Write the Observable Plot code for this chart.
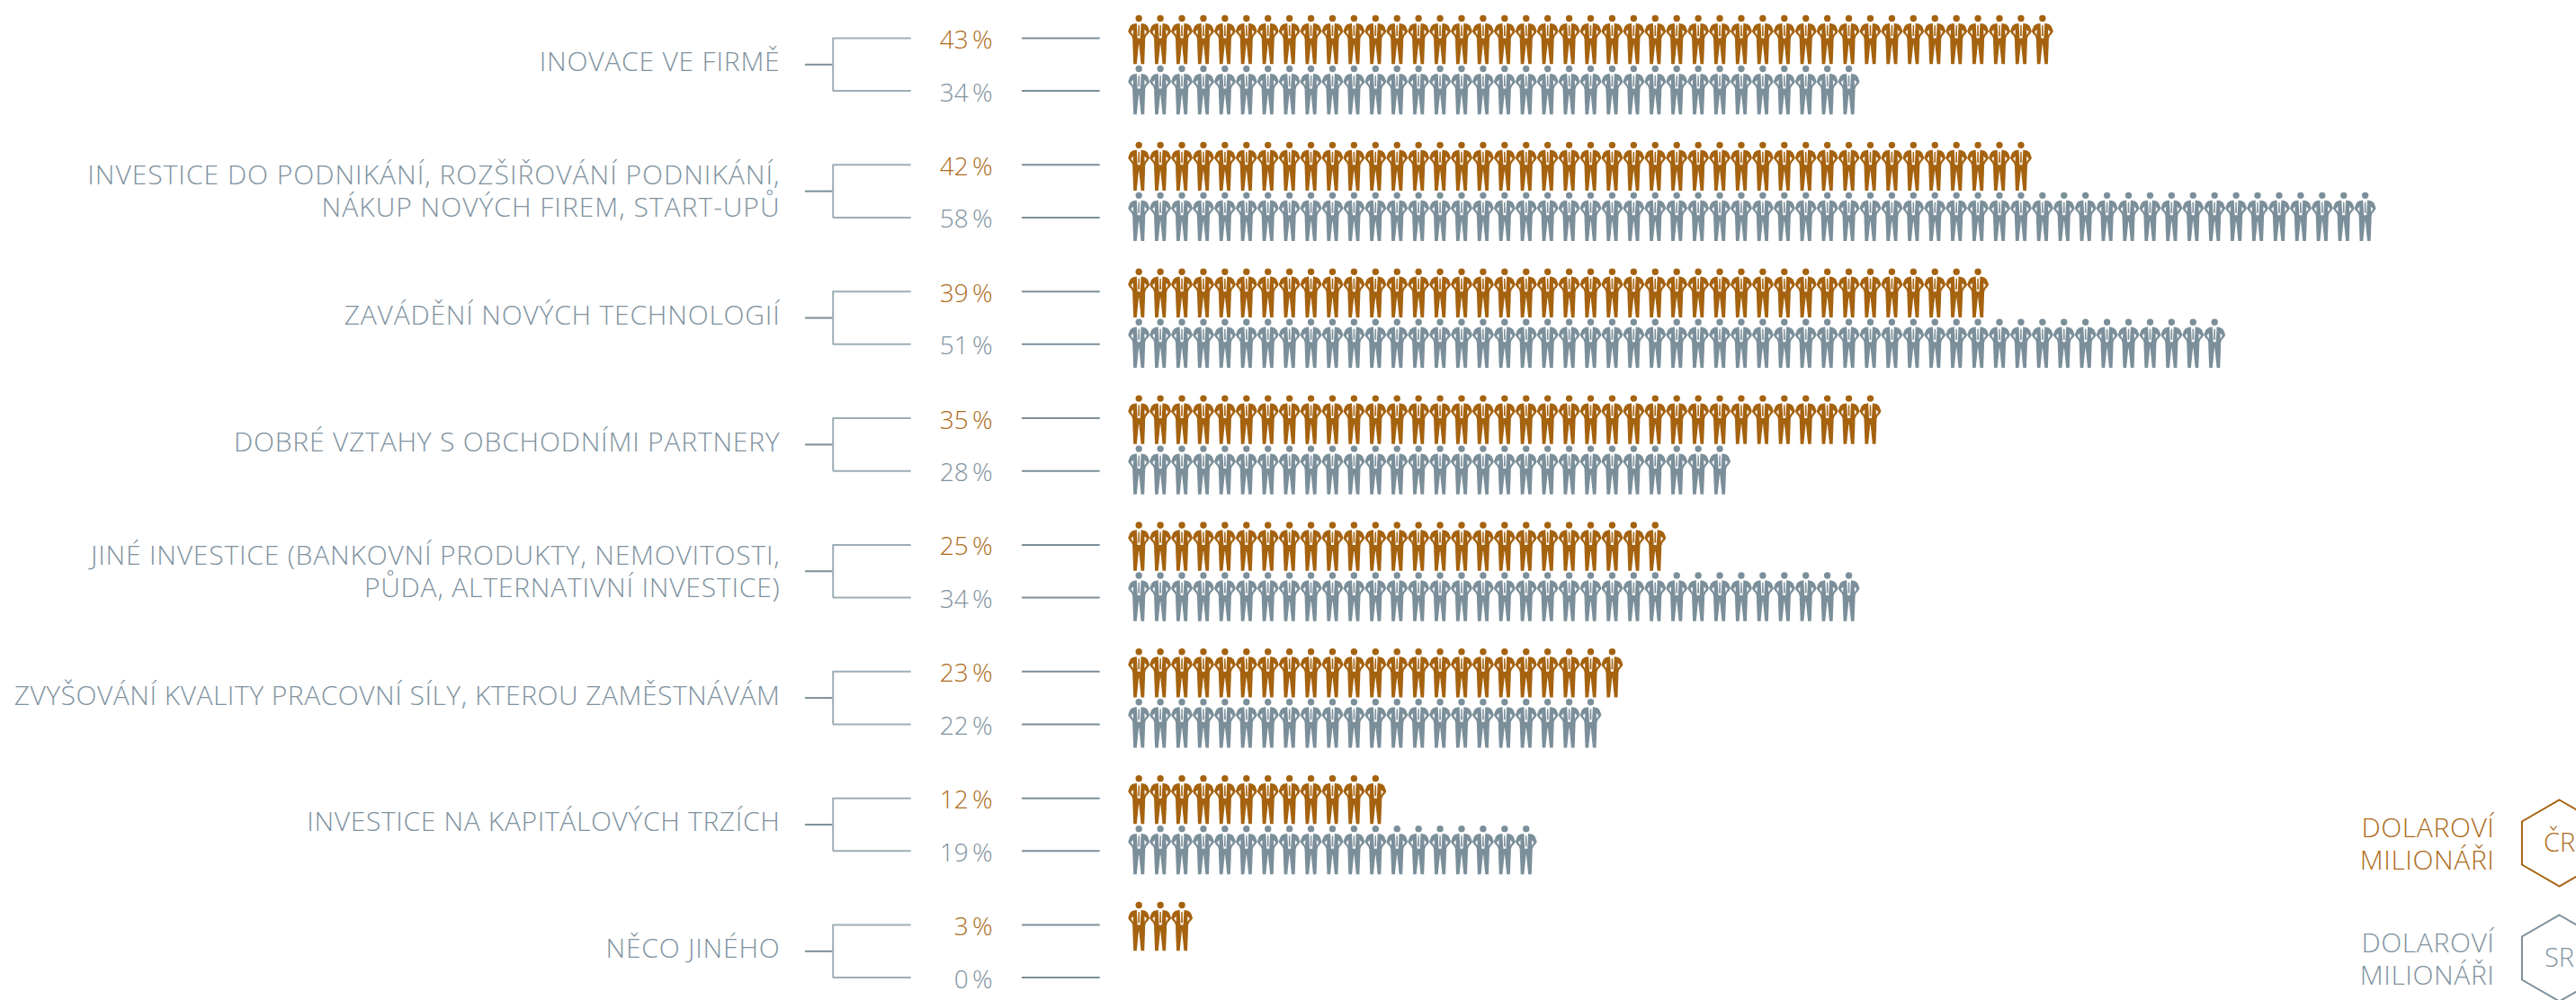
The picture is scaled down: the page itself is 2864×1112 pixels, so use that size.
<!DOCTYPE html>
<html><head><meta charset="utf-8">
<style>html,body{margin:0;padding:0;background:#fff;overflow:hidden}svg{display:block}</style>
<script src="https://cdn.jsdelivr.net/npm/d3@7"></script>
<script src="https://cdn.jsdelivr.net/npm/@observablehq/plot@0.6"></script>
</head><body><div id="c"></div><script>
const categories = [
  "INOVACE VE FIRMĚ",
  "INVESTICE DO PODNIKÁNÍ, ROZŠIŘOVÁNÍ PODNIKÁNÍ,\nNÁKUP NOVÝCH FIREM, START-UPŮ",
  "ZAVÁDĚNÍ NOVÝCH TECHNOLOGIÍ",
  "DOBRÉ VZTAHY S OBCHODNÍMI PARTNERY",
  "JINÉ INVESTICE (BANKOVNÍ PRODUKTY, NEMOVITOSTI,\nPŮDA, ALTERNATIVNÍ INVESTICE)",
  "ZVYŠOVÁNÍ KVALITY PRACOVNÍ SÍLY, KTEROU ZAMĚSTNÁVÁM",
  "INVESTICE NA KAPITÁLOVÝCH TRZÍCH",
  "NĚCO JINÉHO"
];
const cr = [43, 42, 39, 35, 25, 23, 12, 3];
const sr = [34, 58, 51, 28, 34, 22, 19, 0];
// people drawn per row; the reference shows 40 figures beside its "39 %"
const crPeople = [43, 42, 40, 35, 25, 23, 12, 3];
const srPeople = [34, 58, 51, 28, 34, 22, 19, 0];
const legendLabel = "DOLAROVÍ\nMILIONÁŘI";
const seriesNames = ["ČR", "SR"];

const W = 2864, H = 1112;
const GOLD = "#a5620f", GOLDT = "#ad6c1c", GREY = "#7b8f9a", GREYT = "#7f939f", BRACKET = "#9dadb6";
const FONT = "'Open Sans', sans-serif";

// scale helpers: x unit = one person (1 %), y unit = one category row
const X0 = 1265.7, DX = 23.92, Y0 = 42, DY = 140.86;
const ux = px => (px - X0) / DX;
const uy = px => px / DY;
const SR_LINE = uy(58.6), CR_ICON = uy(-22), SR_ICON = uy(58.6 - 24.6), MID = uy(29.3);

const rows = categories.map((label, i) => ({label, i, cr: cr[i], sr: sr[i]}));
const people = rows.flatMap((r, i) => [
  ...d3.range(crPeople[i]).map(k => ({k, y: i + CR_ICON, s: "ČR"})),
  ...d3.range(srPeople[i]).map(k => ({k, y: i + SR_ICON, s: "SR"}))
]);

const person = {draw(c) {
  // head
  c.moveTo(3.7, 0); c.arc(0, 0, 3.7, 0, 2 * Math.PI); c.closePath();
  // body outline, clockwise
  c.moveTo(-3, 5.4);
  c.lineTo(3, 5.4); c.lineTo(7, 6.2); c.lineTo(9.6, 8.2); c.lineTo(10.8, 11); c.lineTo(12, 14.4);
  c.lineTo(10.4, 17); c.lineTo(8, 19.6); c.lineTo(7, 22.5);
  c.lineTo(6.8, 30); c.lineTo(6, 50.7); c.lineTo(2.4, 50.7); c.lineTo(0.2, 29);
  c.lineTo(-0.2, 29); c.lineTo(-2.4, 50.7); c.lineTo(-6, 50.7); c.lineTo(-6.8, 30);
  c.lineTo(-7, 22.5); c.lineTo(-8, 19.6); c.lineTo(-10.4, 17); c.lineTo(-12, 14.4);
  c.lineTo(-10.8, 11); c.lineTo(-9.6, 8.2); c.lineTo(-7, 6.2); c.closePath();
  // arm holes, counter-clockwise
  c.moveTo(6.2, 12.5); c.lineTo(6.4, 18.5); c.lineTo(8.8, 14.8); c.closePath();
  c.moveTo(-6.2, 12.5); c.lineTo(-8.8, 14.8); c.lineTo(-6.4, 18.5); c.closePath();
  // shirt, counter-clockwise
  c.moveTo(-2.4, 5.4); c.lineTo(-1.5, 22); c.lineTo(1.5, 22); c.lineTo(2.4, 5.4); c.closePath();
  // tie, clockwise
  c.moveTo(-0.7, 7.5); c.lineTo(0.7, 7.5); c.lineTo(0.9, 19.5); c.lineTo(-0.9, 19.5); c.closePath();
}};
const hexagon = {draw(c) {
  const R = 48, w = R * Math.sqrt(3) / 2;
  c.moveTo(0, -R); c.lineTo(w, -R / 2); c.lineTo(w, R / 2);
  c.lineTo(0, R); c.lineTo(-w, R / 2); c.lineTo(-w, -R / 2); c.closePath();
}};

const legend = [
  {name: seriesNames[0], y: uy(937 - Y0), color: GOLD, tcolor: GOLDT},
  {name: seriesNames[1], y: uy(1065 - Y0), color: GREY, tcolor: GREYT}
];
const textStyle = {fontFamily: FONT, fontWeight: 300};

const chart = Plot.plot({
  width: W, height: H,
  marginTop: 0, marginRight: 0, marginBottom: 0, marginLeft: 0,
  style: {background: "#fff", overflow: "hidden"},
  x: {domain: [ux(0), ux(W)], range: [0, W], axis: null},
  y: {domain: [uy(-Y0), uy(H - Y0)], range: [0, H], axis: null},
  marks: [
    // bracket
    Plot.ruleY(rows, {y: d => d.i + MID, x1: ux(895), x2: ux(925.7), stroke: GREY, strokeWidth: 2}),
    Plot.ruleX(rows, {x: ux(925.7), y1: d => d.i, y2: d => d.i + SR_LINE, stroke: BRACKET, strokeWidth: 2}),
    Plot.ruleY(rows, {y: d => d.i, x1: ux(925.7), x2: ux(1012.7), stroke: BRACKET, strokeWidth: 2}),
    Plot.ruleY(rows, {y: d => d.i + SR_LINE, x1: ux(925.7), x2: ux(1012.7), stroke: BRACKET, strokeWidth: 2}),
    // leaders
    Plot.ruleY(rows, {y: d => d.i, x1: ux(1136), x2: ux(1222.7), stroke: GREY, strokeWidth: 2}),
    Plot.ruleY(rows, {y: d => d.i + SR_LINE, x1: ux(1136), x2: ux(1222.7), stroke: GREY, strokeWidth: 2}),
    // category labels
    Plot.text(rows, {x: ux(867), y: d => d.i + MID - uy(d.label.includes("\n") ? 1 : 4), text: "label", textAnchor: "end", lineHeight: 1.2,
      fontSize: 30, fill: GREYT, ...textStyle}),
    // percentages
    Plot.text(rows, {x: ux(1103), y: d => d.i + uy(2.5), text: d => `${d.cr} %`, textAnchor: "end",
      fontSize: 28, fill: GOLDT, ...textStyle}),
    Plot.text(rows, {x: ux(1103), y: d => d.i + SR_LINE + uy(2.5), text: d => `${d.sr} %`, textAnchor: "end",
      fontSize: 28, fill: GREYT, ...textStyle}),
    // people
    Plot.dot(people, {x: "k", y: "y", symbol: person, r: 5, stroke: null,
      fill: d => d.s === "ČR" ? GOLD : GREY}),
    // legend
    Plot.dot(legend, {x: ux(2845), y: "y", symbol: hexagon, r: 5, fill: "none", stroke: "color", strokeWidth: 2}),
    Plot.text(legend, {x: ux(2845), y: "y", text: "name", fontSize: 29, fill: "tcolor", ...textStyle}),
    Plot.text(legend, {x: ux(2773), y: "y", text: () => legendLabel, textAnchor: "end", lineHeight: 1.2,
      fontSize: 30, fill: "tcolor", ...textStyle})
  ]
});
// text groups in mark order: categories, ČR %, SR %, hexagon labels, legend
const textGroups = [...chart.querySelectorAll("g")].filter(g => g.querySelector(":scope > text"));
const labelSpacing = [0.8, 1, 0.8, 0.8, 0.8, 0.5, 0.65, 0.8];
[...textGroups[0].children].forEach((t, i) => t.style.letterSpacing = labelSpacing[i] + "px");
textGroups[1].style.wordSpacing = "-3px";
textGroups[2].style.wordSpacing = "-3px";
textGroups[4].style.letterSpacing = "0.6px";
document.getElementById("c").append(chart);
</script></body></html>
